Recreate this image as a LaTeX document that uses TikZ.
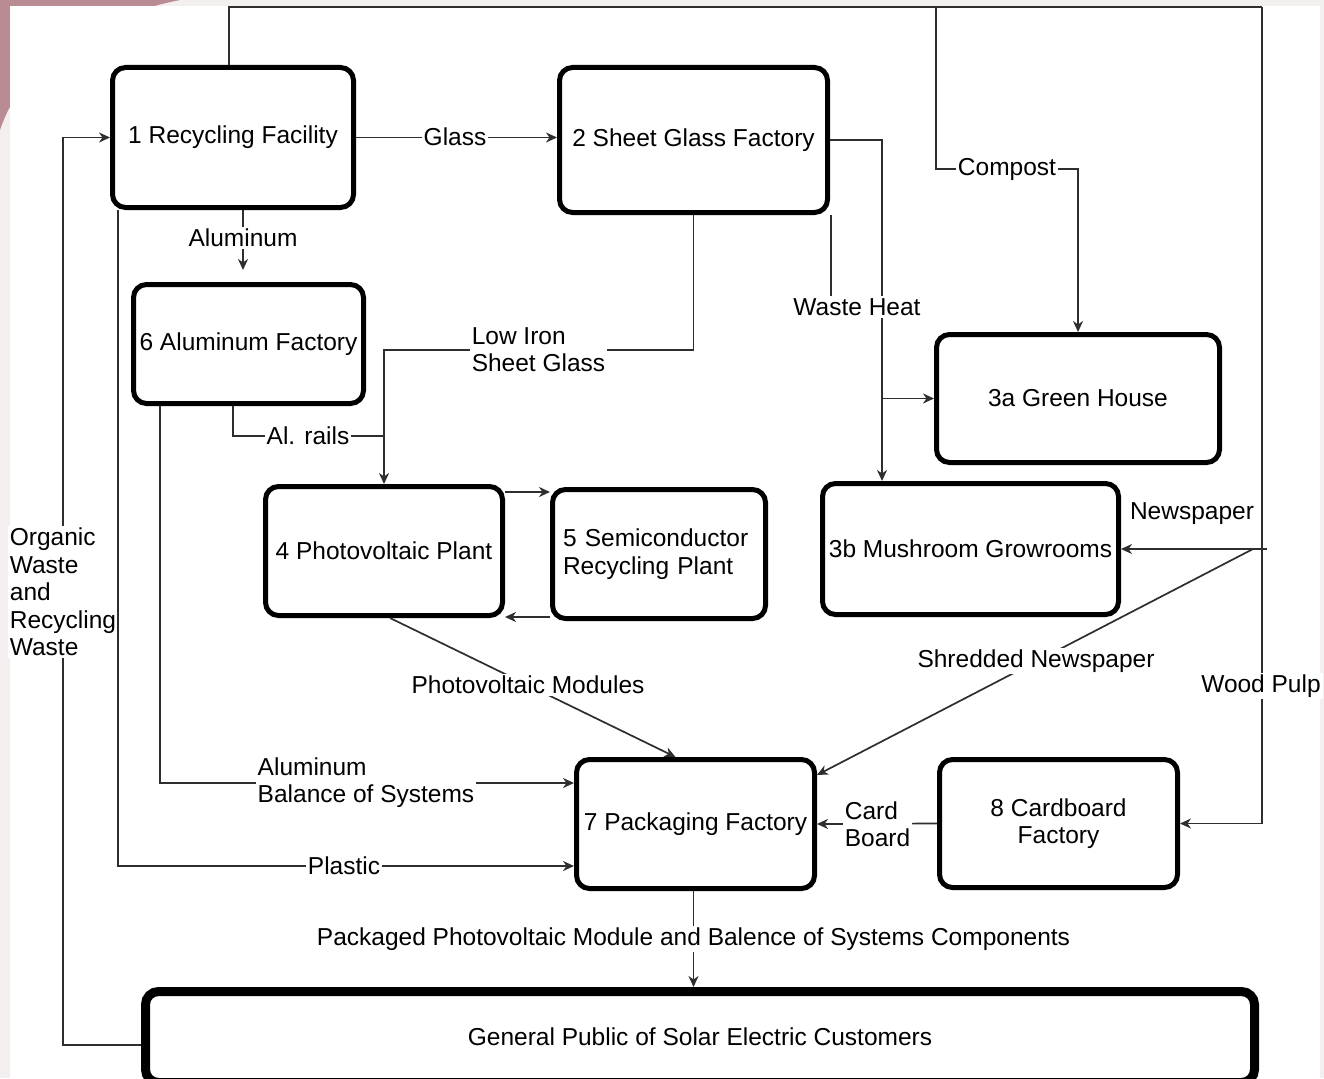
\documentclass[tikz,border=0pt]{standalone}
\usepackage{fontspec}
\setmainfont{Liberation Sans}
\usetikzlibrary{arrows.meta}
\newcommand\dfont{\fontsize{24.5}{27.5}\selectfont}
\definecolor{pageout}{RGB}{243,239,239}
\definecolor{pinkedge}{RGB}{184,140,146}
\begin{document}
\begin{tikzpicture}[x=1pt,y=-1pt,
  font=\dfont,
  box/.style={draw=black, line width=5pt, rounded corners=13pt, inner sep=0pt,
              fill=white, align=center},
  flow/.style={draw=black!82, line width=1.7pt},
  arr/.style={flow, -{Stealth[length=11pt,width=10pt,inset=3.5pt]}},
  lbl/.style={fill=white, inner sep=2pt, align=left}]

% page background
\useasboundingbox (0,0) rectangle (1324,1078);
\fill[pageout] (0,0) rectangle (1324,1078);
\fill[pinkedge] (0,0) -- (180,0) .. controls (80,20) and (20,70) .. (0,130) -- cycle;
\fill[white] (10,6) rectangle (1320,1078);

% process boxes
\node[box, minimum width=241pt, minimum height=140pt] (b1) at (233,137.5) {1 Recycling Facility};
\node[box, minimum width=268pt, minimum height=145pt] (b2) at (693.5,140) {2 Sheet Glass Factory};
\node[box, minimum width=230pt, minimum height=119pt] (b6) at (248.5,344) {6 Aluminum Factory};
\node[box, minimum width=283pt, minimum height=128pt] (b3a) at (1078,398.5) {3a Green House};
\node[box, minimum width=296pt, minimum height=131pt] (b3b) at (970.5,549) {3b Mushroom Growrooms};
\node[box, minimum width=237pt, minimum height=129pt] (b4) at (384,551) {4 Photovoltaic Plant};
\node[box, minimum width=213pt, minimum height=129pt, align=left, text width=192pt] (b5) at (659,554) {5 Semiconductor\\Recycling Plant};
\node[box, minimum width=238pt, minimum height=129pt] (b7) at (695.5,824) {7 Packaging Factory};
\node[box, minimum width=238pt, minimum height=128pt] (b8) at (1058.5,823.5) {8 Cardboard\\Factory};
\node[box, line width=9pt, minimum width=1109pt, minimum height=91pt] (gp) at (700,1037) {General Public of Solar Electric Customers};

% routing points
\coordinate (tl) at (229,7);
\coordinate (tr) at (1262,7);
\coordinate (cp1) at (936,7);
\coordinate (cp2) at (936,169);
\coordinate (cp3) at (1078,169);
\coordinate (np) at (1267,549);
\coordinate (sn) at (1253,549);
\coordinate (wh) at (882,140);
\coordinate (wb) at (882,398.5);
\coordinate (li1) at (693.5,350);
\coordinate (li2) at (384,350);
\coordinate (ar) at (384,436);
\coordinate (ow) at (63,1045);

% return flow from the customers, labelled before the plastic line passes beside it
\draw[arr] ([yshift=-8pt]gp.west) -- (ow) |- (b1.west);
\node[lbl] (lorg) at (63,592) {Organic\\Waste\\and\\Recycling\\Waste};

% connectors
\draw[flow] ([xshift=-4pt]b1.north) -- (tl) -- (tr);
\draw[arr] (tr) |- (b8.east);
\draw[arr] (cp1) -- (cp2) -- (cp3) -- (b3a.north);
\draw[arr] (np) -- (b3b.east);
\draw[arr] (sn) -- ([yshift=-18pt]b7.north east);
\draw[arr] (b1.east) -- (b2.west |- b1.east);
\draw[arr, shorten >=12pt] ([xshift=10pt]b1.south) -- ([xshift=-5.5pt]b6.north);
\draw[arr] (b2.east) -- (wh) -- (wh |- b3b.north);
\draw[arr] (wb) -- (b3a.west);
\draw[arr] (b2.south) -- (li1) -- (li2) -- (b4.north);
\draw[flow] ([xshift=-15.5pt]b6.south) |- (ar);
\draw[arr] ([yshift=59pt]b4.east) -- ([yshift=59pt]b4.east -| b5.west);
\draw[arr] ([yshift=-63pt]b5.west) -- ([yshift=-63pt]b5.west -| b4.east);
\draw[arr] ([xshift=6pt]b4.south) -- ([xshift=-20pt]b7.north);
\draw[arr] ([xshift=-88.5pt]b6.south) |- ([yshift=41pt]b7.west);
\draw[arr] ([xshift=-115pt]b1.south) |- ([yshift=-42pt]b7.west);
\draw[arr] (b8.west) -- (b7.east);
\draw[arr] ([xshift=-2pt]b7.south) -- ([xshift=-2pt]b7.south |- gp.north);

% connector labels
\node[lbl] (lglass) at (455,137) {Glass};
\node[lbl] (lalu) at (243,238) {Aluminum};
\node[lbl] (lcomp) at (1007,169) {Compost};
\node[lbl] (lheat) at (857,307) {Waste Heat};
\draw[flow] ([xshift=1pt]b2.south east) -- ([xshift=1pt]b2.south east |- lheat.north);
\node[lbl] (liron) at (538.5,349.5) {Low Iron\\Sheet Glass};
\node[lbl] (lrail) at (308,436) {Al. rails};
\node[lbl] (lnews) at (1192,514) {Newspaper};
\node[lbl] (lshred) at (1036,661) {Shredded Newspaper};
\node[lbl] (lpulp) at (1261,686) {Wood Pulp};
\node[lbl] (lpvm) at (528,685) {Photovoltaic Modules};
\node[lbl] (lbos) at (366,782.5) {Aluminum\\Balance of Systems};
\node[lbl] (lplas) at (344,866) {Plastic};
\node[lbl] (lcard) at (877.5,824) {Card\\Board};
\node[lbl] (lpack) at (693.5,939) {Packaged Photovoltaic Module and Balence of Systems Components};
\end{tikzpicture}
\end{document}
